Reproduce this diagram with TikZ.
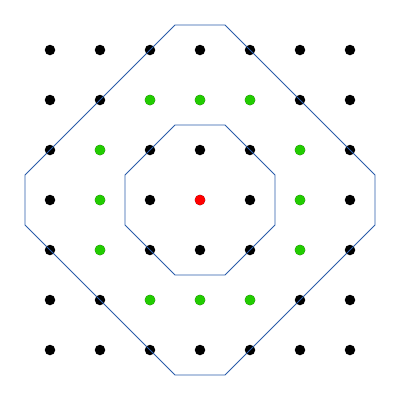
\documentclass[tikz,border=0pt]{standalone}
\definecolor{octblue}{HTML}{2A5CAA}
\definecolor{dotgreen}{HTML}{22CC00}
\tikzset{
  dot/.style={circle,inner sep=0pt,minimum size=10.5pt,fill=black,draw=none},
  gdot/.style={dot,fill=dotgreen},
  rdot/.style={dot,fill=red},
  oct/.style={draw=octblue,line width=0.9pt,line join=miter}
}
\begin{document}
\begin{tikzpicture}[x=1pt,y=-1pt]
\useasboundingbox[fill=white] (0,0) rectangle (400,400);
% dots
\foreach \i in {1,...,7}{
  \foreach \j in {1,...,7}{
    \node[dot] (d\i\j) at (50*\i,50*\j) {};
  }
}
\foreach \i/\j in {3/2,4/2,5/2,2/3,2/4,2/5,6/3,6/4,6/5,3/6,4/6,5/6}{
  \node[gdot] (g\i\j) at (50*\i,50*\j) {};
}
\node[rdot] (c) at (200,200) {};
% octagons
\draw[oct] (175,125) -- (225,125) -- (275,175) -- (275,225) -- (225,275) -- (175,275) -- (125,225) -- (125,175) -- cycle;
\draw[oct] (175,25) -- (225,25) -- (375,175) -- (375,225) -- (225,375) -- (175,375) -- (25,225) -- (25,175) -- cycle;
\end{tikzpicture}
\end{document}
